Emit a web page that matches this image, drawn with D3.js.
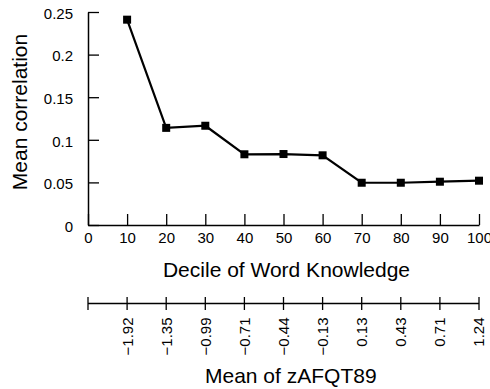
<!DOCTYPE html>
<html>
<head>
<meta charset="utf-8">
<script src="https://cdn.jsdelivr.net/npm/d3@7"></script>
<style>
  html, body { margin: 0; padding: 0; background: #fff; }
  text { font-family: "Liberation Sans", Arial, Helvetica, sans-serif; fill: #000; }
</style>
</head>
<body>
<svg id="chart" width="490" height="389"></svg>
<script>
const deciles = [10, 20, 30, 40, 50, 60, 70, 80, 90, 100];
const meanCorrelation = [0.241, 0.114, 0.1165, 0.083, 0.0833, 0.0818, 0.0496, 0.0496, 0.0508, 0.052];
const xTicks = [0, 10, 20, 30, 40, 50, 60, 70, 80, 90, 100];
const yTicks = [0, 0.05, 0.1, 0.15, 0.2, 0.25];
const yTickLabels = ["0", "0.05", "0.1", "0.15", "0.2", "0.25"];
const zTicks = [0, 10, 20, 30, 40, 50, 60, 70, 80, 90, 100];
const zLabels = ["", "\u22121.92", "\u22121.35", "\u22120.99", "\u22120.71", "\u22120.44", "\u22120.13", "0.13", "0.43", "0.71", "1.24"];

const svg = d3.select("#chart");
const x = d3.scaleLinear().domain([0, 100]).range([88, 479]);
const y = d3.scaleLinear().domain([0, 0.25]).range([225, 12]);

// Y axis (ticks inward)
const yAxis = d3.axisLeft(y).tickValues(yTicks).tickSize(-11).tickSizeOuter(0)
  .tickFormat((d, i) => yTickLabels[i]).tickPadding(15);
const gy = svg.append("g").attr("transform", `translate(${x(0)},0)`).call(yAxis);
gy.select(".domain").attr("stroke", "#000").attr("stroke-width", 1.5);
gy.selectAll(".tick line").attr("stroke", "#000").attr("stroke-width", 1.3);
gy.selectAll(".tick text").style("font-size", "15px").attr("dy", "0.42em");

// X axis (ticks inward)
const xAxis = d3.axisBottom(x).tickValues(xTicks).tickSize(-11).tickSizeOuter(0).tickPadding(7);
const gx = svg.append("g").attr("transform", `translate(0,${y(0)})`).call(xAxis);
gx.select(".domain").attr("stroke", "#000").attr("stroke-width", 1.5);
gx.selectAll(".tick line").attr("stroke", "#000").attr("stroke-width", 1.3);
gx.selectAll(".tick text").style("font-size", "15px").attr("dy", "0.71em");

// Line and markers
const line = d3.line().x((d, i) => x(deciles[i])).y(d => y(d));
svg.append("path").datum(meanCorrelation)
  .attr("d", line).attr("fill", "none").attr("stroke", "#000").attr("stroke-width", 2.2)
  .attr("stroke-linejoin", "miter");
svg.selectAll("rect.mk").data(meanCorrelation).join("rect")
  .attr("class", "mk")
  .attr("x", (d, i) => x(deciles[i]) - 4).attr("y", d => y(d) - 4)
  .attr("width", 8).attr("height", 8).attr("fill", "#000");

// Axis titles
svg.append("text").attr("x", 286.5).attr("y", 277).attr("text-anchor", "middle")
  .style("font-size", "21px").text("Decile of Word Knowledge");
svg.append("text").attr("transform", "translate(26.5,112) rotate(-90)").attr("text-anchor", "middle")
  .style("font-size", "21px").text("Mean correlation");

// Secondary axis: Mean of zAFQT89
const zy = 303.5;
const gz = svg.append("g");
gz.append("line").attr("x1", x(0)).attr("x2", x(100)).attr("y1", zy).attr("y2", zy)
  .attr("stroke", "#000").attr("stroke-width", 1.5);
gz.selectAll("line.zt").data(zTicks).join("line").attr("class", "zt")
  .attr("x1", d => x(d)).attr("x2", d => x(d)).attr("y1", zy - 6.5).attr("y2", zy + 6.5)
  .attr("stroke", "#000").attr("stroke-width", 1.3);
gz.selectAll("text.zl").data(zTicks).join("text").attr("class", "zl")
  .attr("transform", d => `translate(${x(d)},${zy + 14}) rotate(-90)`)
  .attr("text-anchor", "end").attr("dy", "0.36em")
  .style("font-size", "15px").text((d, i) => zLabels[i]);
svg.append("text").attr("x", 290.8).attr("y", 383).attr("text-anchor", "middle")
  .style("font-size", "21px").text("Mean of zAFQT89");
</script>
</body>
</html>
